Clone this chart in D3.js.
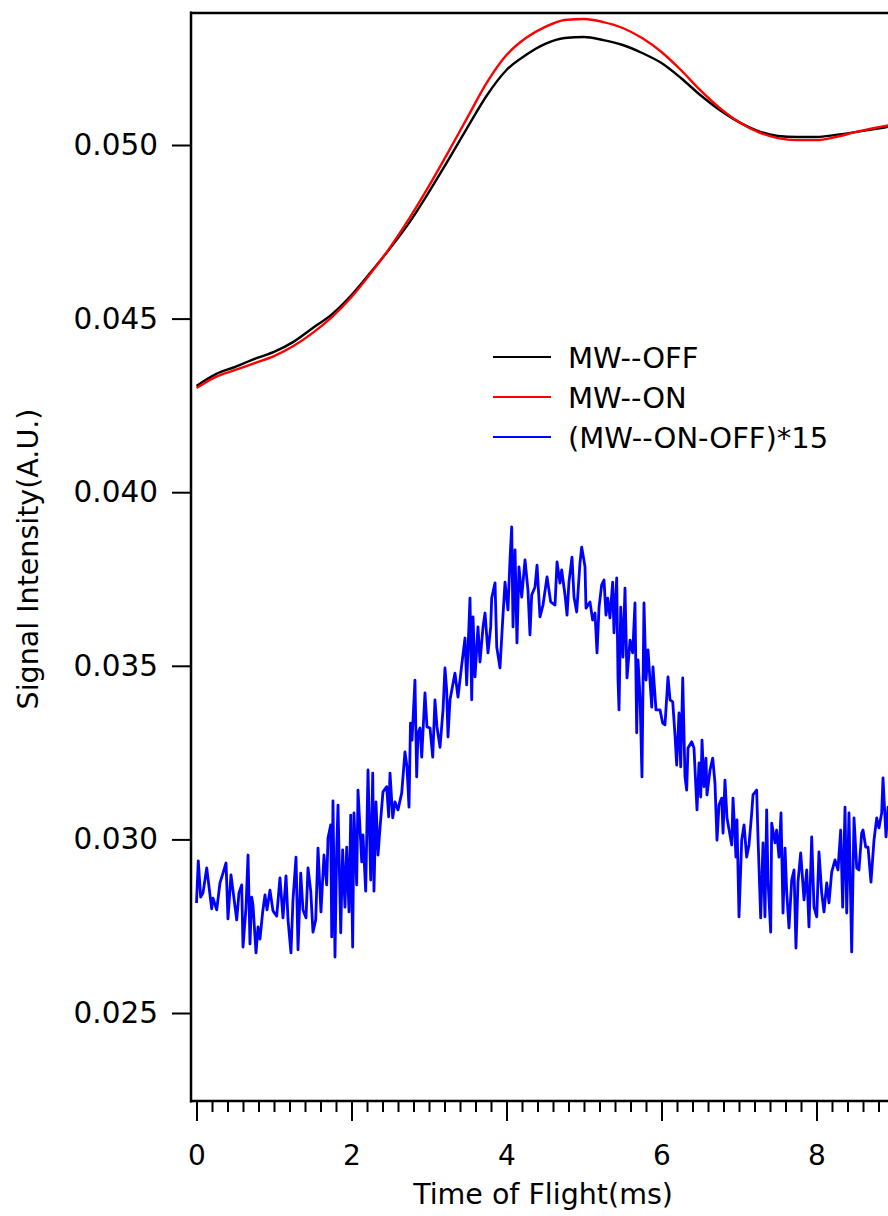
<!DOCTYPE html>
<html>
<head>
<meta charset="utf-8">
<script src="https://cdn.jsdelivr.net/npm/d3@7"></script>
<style>
  body { margin: 0; background: #fff; }
  svg { display: block; }
  text { font-family: "DejaVu Sans", sans-serif; fill: #000; }
</style>
</head>
<body>
<svg id="root"></svg>
<script>
// time axis (ms) for the two smooth traces
const smoothTime = [0, 0.25, 0.5, 0.75, 1.0, 1.25, 1.5, 1.75, 2.0, 2.25, 2.5, 2.75, 3.0, 3.25, 3.5, 3.75,
  4.0, 4.25, 4.5, 4.75, 5.0, 5.25, 5.5, 5.75, 6.0, 6.25, 6.5, 6.75, 7.0, 7.25, 7.5, 7.75, 8.0, 8.25, 8.5, 8.75, 9.0];

const mwOff = [0.04306, 0.04340, 0.04361, 0.04384, 0.04404, 0.04433, 0.04473, 0.04513, 0.04568, 0.04634,
  0.04703, 0.04778, 0.04865, 0.04957, 0.05052, 0.05144, 0.05216, 0.05259, 0.05291, 0.05308, 0.05311,
  0.05302, 0.05288, 0.05265, 0.05236, 0.05193, 0.05144, 0.05101, 0.05066, 0.05040, 0.05026, 0.05023,
  0.05023, 0.05029, 0.05037, 0.05046, 0.05055];

const mwOn = [0.04300, 0.04332, 0.04352, 0.04372, 0.04392, 0.04421, 0.04459, 0.04505, 0.04562, 0.04631,
  0.04706, 0.04790, 0.04882, 0.04980, 0.05081, 0.05181, 0.05259, 0.05308, 0.05340, 0.05360, 0.05363,
  0.05354, 0.05337, 0.05308, 0.05268, 0.05216, 0.05158, 0.05107, 0.05066, 0.05037, 0.05020, 0.05014,
  0.05014, 0.05023, 0.05037, 0.05049, 0.05060];

// (MW--ON-OFF)*15 trace
const diffTime = [0.000, 0.023, 0.054, 0.084, 0.132, 0.196, 0.213, 0.261, 0.303, 0.342, 0.381, 0.406, 0.445,
  0.519, 0.548, 0.583, 0.600, 0.639, 0.665, 0.690, 0.712, 0.729, 0.768, 0.794, 0.819, 0.854, 0.884, 0.910,
  0.948, 0.987, 1.035, 1.077, 1.116, 1.155, 1.181, 1.219, 1.245, 1.284, 1.310, 1.345, 1.374, 1.413, 1.439,
  1.474, 1.503, 1.538, 1.568, 1.606, 1.645, 1.680, 1.697, 1.732, 1.745, 1.761, 1.787, 1.809, 1.826, 1.861,
  1.886, 1.916, 1.938, 1.968, 1.990, 2.015, 2.032, 2.067, 2.084, 2.132, 2.148, 2.183, 2.213, 2.248, 2.274,
  2.290, 2.316, 2.342, 2.368, 2.406, 2.454, 2.480, 2.497, 2.532, 2.561, 2.600, 2.648, 2.690, 2.716, 2.742,
  2.761, 2.781, 2.819, 2.841, 2.858, 2.884, 2.906, 2.948, 2.974, 3.013, 3.048, 3.077, 3.103, 3.142, 3.181,
  3.206, 3.228, 3.245, 3.271, 3.335, 3.374, 3.422, 3.465, 3.486, 3.529, 3.551, 3.568, 3.594, 3.632, 3.658,
  3.697, 3.723, 3.761, 3.796, 3.809, 3.852, 3.874, 3.916, 3.951, 3.981, 4.019, 4.045, 4.067, 4.084, 4.110,
  4.135, 4.161, 4.196, 4.239, 4.277, 4.303, 4.325, 4.368, 4.394, 4.432, 4.471, 4.523, 4.570, 4.626, 4.652,
  4.690, 4.712, 4.755, 4.781, 4.806, 4.845, 4.871, 4.906, 4.948, 4.970, 5.013, 5.026, 5.077, 5.112, 5.142,
  5.168, 5.194, 5.228, 5.258, 5.284, 5.306, 5.335, 5.370, 5.387, 5.422, 5.439, 5.452, 5.474, 5.503, 5.529,
  5.555, 5.594, 5.628, 5.658, 5.680, 5.697, 5.723, 5.748, 5.774, 5.800, 5.826, 5.874, 5.890, 5.929, 5.981,
  6.015, 6.045, 6.084, 6.110, 6.145, 6.174, 6.196, 6.226, 6.248, 6.274, 6.303, 6.325, 6.342, 6.390, 6.419,
  6.458, 6.484, 6.506, 6.523, 6.548, 6.574, 6.587, 6.626, 6.661, 6.690, 6.716, 6.742, 6.777, 6.794, 6.819,
  6.845, 6.906, 6.923, 6.961, 6.974, 7.000, 7.035, 7.065, 7.099, 7.129, 7.164, 7.181, 7.228, 7.245, 7.280,
  7.310, 7.335, 7.357, 7.374, 7.409, 7.422, 7.465, 7.486, 7.516, 7.542, 7.568, 7.594, 7.615, 7.645, 7.680,
  7.710, 7.735, 7.761, 7.796, 7.839, 7.874, 7.903, 7.938, 7.968, 8.003, 8.032, 8.067, 8.097, 8.132, 8.161,
  8.196, 8.239, 8.277, 8.312, 8.338, 8.368, 8.390, 8.419, 8.454, 8.484, 8.519, 8.548, 8.583, 8.600, 8.635,
  8.665, 8.703, 8.742, 8.777, 8.806, 8.841, 8.858, 8.897, 8.923, 8.974];

const diffSignal = [0.02817, 0.02938, 0.02834, 0.02846, 0.02918, 0.02800, 0.02831, 0.02797, 0.02875, 0.02903,
  0.02932, 0.02771, 0.02898, 0.02768, 0.02846, 0.02869, 0.02690, 0.02805, 0.02955, 0.02699, 0.02834, 0.02811,
  0.02673, 0.02748, 0.02713, 0.02791, 0.02840, 0.02797, 0.02854, 0.02794, 0.02779, 0.02889, 0.02774, 0.02895,
  0.02768, 0.02673, 0.02826, 0.02949, 0.02682, 0.02903, 0.02797, 0.02774, 0.02918, 0.02851, 0.02733, 0.02768,
  0.02975, 0.02791, 0.02955, 0.02869, 0.03004, 0.03042, 0.02719, 0.03111, 0.02661, 0.02970, 0.03099, 0.02731,
  0.02970, 0.02805, 0.02978, 0.02791, 0.03070, 0.02690, 0.03076, 0.02869, 0.03142, 0.02935, 0.03013, 0.02851,
  0.03200, 0.02883, 0.03191, 0.02851, 0.03108, 0.02955, 0.03033, 0.03137, 0.03152, 0.03065, 0.03191, 0.03062,
  0.03108, 0.03085, 0.03134, 0.03252, 0.03209, 0.03093, 0.03335, 0.03286, 0.03459, 0.03180, 0.03307, 0.03321,
  0.03237, 0.03422, 0.03324, 0.03321, 0.03237, 0.03402, 0.03324, 0.03265, 0.03373, 0.03494, 0.03430, 0.03295,
  0.03402, 0.03479, 0.03410, 0.03502, 0.03580, 0.03445, 0.03695, 0.03402, 0.03641, 0.03468, 0.03612, 0.03511,
  0.03612, 0.03652, 0.03537, 0.03612, 0.03695, 0.03739, 0.03554, 0.03494, 0.03632, 0.03741, 0.03661, 0.03805,
  0.03900, 0.03612, 0.03834, 0.03566, 0.03785, 0.03698, 0.03805, 0.03718, 0.03589, 0.03704, 0.03727, 0.03790,
  0.03641, 0.03675, 0.03756, 0.03684, 0.03675, 0.03799, 0.03738, 0.03776, 0.03704, 0.03646, 0.03741, 0.03813,
  0.03698, 0.03655, 0.03796, 0.03842, 0.03785, 0.03666, 0.03684, 0.03632, 0.03652, 0.03537, 0.03669, 0.03733,
  0.03747, 0.03646, 0.03695, 0.03638, 0.03741, 0.03595, 0.03753, 0.03459, 0.03373, 0.03669, 0.03525, 0.03724,
  0.03465, 0.03574, 0.03537, 0.03681, 0.03307, 0.03517, 0.03410, 0.03180, 0.03681, 0.03459, 0.03546, 0.03381,
  0.03497, 0.03373, 0.03373, 0.03335, 0.03330, 0.03468, 0.03402, 0.03396, 0.03301, 0.03214, 0.03364, 0.03209,
  0.03465, 0.03180, 0.03142, 0.03263, 0.03281, 0.03263, 0.03085, 0.03220, 0.03122, 0.03286, 0.03152, 0.03234,
  0.03128, 0.03200, 0.03234, 0.03162, 0.02998, 0.03099, 0.03119, 0.03018, 0.03171, 0.03062, 0.02984, 0.03119,
  0.02949, 0.03056, 0.02777, 0.02998, 0.03042, 0.02949, 0.02984, 0.03076, 0.03128, 0.03142, 0.03007, 0.02774,
  0.02990, 0.02777, 0.03085, 0.02883, 0.02733, 0.03047, 0.02990, 0.03027, 0.02949, 0.03076, 0.02788, 0.02975,
  0.02851, 0.02745, 0.02883, 0.02912, 0.02687, 0.02877, 0.02961, 0.02826, 0.02912, 0.02748, 0.03007, 0.02805,
  0.02777, 0.02964, 0.02846, 0.02791, 0.02875, 0.02817, 0.02906, 0.02941, 0.02912, 0.03027, 0.02805, 0.03093,
  0.02788, 0.03076, 0.02676, 0.03062, 0.02918, 0.02912, 0.03018, 0.03027, 0.02978, 0.02978, 0.02877, 0.02998,
  0.03062, 0.03033, 0.03076, 0.03177, 0.03007, 0.03093, 0.03056];

const xMajorTicks = [0, 2, 4, 6, 8];
const xMinorTicks = [0.2, 0.4, 0.6, 0.8, 1.0, 1.2, 1.4, 1.6, 1.8, 2.2, 2.4, 2.6, 2.8, 3.0, 3.2, 3.4, 3.6, 3.8,
  4.2, 4.4, 4.6, 4.8, 5.0, 5.2, 5.4, 5.6, 5.8, 6.2, 6.4, 6.6, 6.8, 7.0, 7.2, 7.4, 7.6, 7.8,
  8.2, 8.4, 8.6, 8.8];
const yTicks = [0.025, 0.030, 0.035, 0.040, 0.045, 0.050];

const legendItems = [
  { label: "MW--OFF", color: "#000000" },
  { label: "MW--ON", color: "#ff0000" },
  { label: "(MW--ON-OFF)*15", color: "#0000ff" }
];

const width = 888;
const height = 1216;
const plotLeft = 191, plotTop = 13, plotBottom = 1101;

const svg = d3.select("#root").attr("width", width).attr("height", height);

const x = d3.scaleLinear().domain([0, 9]).range([196.5, 894]);
const y = d3.scaleLinear().domain([0.025, 0.050]).range([1013, 145]);

// frame
svg.append("line").attr("x1", plotLeft).attr("x2", plotLeft).attr("y1", plotTop - 1.5).attr("y2", plotBottom + 1.5)
  .attr("stroke", "#000").attr("stroke-width", 2.5);
svg.append("line").attr("x1", plotLeft - 1).attr("x2", width).attr("y1", plotTop).attr("y2", plotTop)
  .attr("stroke", "#000").attr("stroke-width", 2.5);
svg.append("line").attr("x1", plotLeft - 1).attr("x2", width).attr("y1", plotBottom).attr("y2", plotBottom)
  .attr("stroke", "#000").attr("stroke-width", 2.5);

// y axis
const yAxis = svg.append("g")
  .attr("transform", `translate(${plotLeft},0)`)
  .call(d3.axisLeft(y).tickValues(yTicks).tickFormat(d3.format(".3f")).tickSize(19).tickPadding(14));
yAxis.select(".domain").remove();
yAxis.selectAll(".tick line").attr("stroke-width", 2);
yAxis.selectAll(".tick text").attr("font-family", "DejaVu Sans").attr("font-size", 29.5);

// x axis: minor then major
const xMinor = svg.append("g")
  .attr("transform", `translate(0,${plotBottom})`)
  .call(d3.axisBottom(x).tickValues(xMinorTicks).tickSize(11).tickFormat(""));
xMinor.select(".domain").remove();
xMinor.selectAll(".tick line").attr("stroke-width", 2);

const xAxis = svg.append("g")
  .attr("transform", `translate(0,${plotBottom})`)
  .call(d3.axisBottom(x).tickValues(xMajorTicks).tickSize(20).tickPadding(24).tickFormat(d3.format("d")));
xAxis.select(".domain").remove();
xAxis.selectAll(".tick line").attr("stroke-width", 2);
xAxis.selectAll(".tick text").attr("font-family", "DejaVu Sans").attr("font-size", 28);

// axis titles
svg.append("text")
  .attr("x", 543).attr("y", 1204)
  .attr("text-anchor", "middle")
  .attr("font-size", 28.5)
  .text("Time of Flight(ms)");

svg.append("text")
  .attr("transform", "translate(38,559) rotate(-90)")
  .attr("text-anchor", "middle")
  .attr("font-size", 28.5)
  .text("Signal Intensity(A.U.)");

// traces
const line = d3.line()
  .x(d => x(d[0]))
  .y(d => y(d[1]));

const smoothLine = d3.line()
  .curve(d3.curveMonotoneX)
  .x(d => x(d[0]))
  .y(d => y(d[1]));

svg.append("path")
  .attr("d", smoothLine(smoothTime.map((t, i) => [t, mwOff[i]])))
  .attr("fill", "none").attr("stroke", "#000000").attr("stroke-width", 2.4);

svg.append("path")
  .attr("d", smoothLine(smoothTime.map((t, i) => [t, mwOn[i]])))
  .attr("fill", "none").attr("stroke", "#ff0000").attr("stroke-width", 2.4);

svg.append("path")
  .attr("d", line(diffTime.map((t, i) => [t, diffSignal[i]])))
  .attr("fill", "none").attr("stroke", "#0000ff").attr("stroke-width", 2.8)
  .attr("stroke-linejoin", "round");

// legend
const legend = svg.append("g").attr("transform", "translate(493,357)");
const rows = legend.selectAll("g")
  .data(legendItems)
  .enter()
  .append("g")
  .attr("transform", (d, i) => `translate(0,${i * 40})`);
rows.append("line")
  .attr("x1", 0).attr("x2", 58).attr("y1", 0).attr("y2", 0)
  .attr("stroke", d => d.color).attr("stroke-width", 2.2);
rows.append("text")
  .attr("x", 75).attr("y", 11)
  .attr("font-size", 29)
  .text(d => d.label);
</script>
</body>
</html>
